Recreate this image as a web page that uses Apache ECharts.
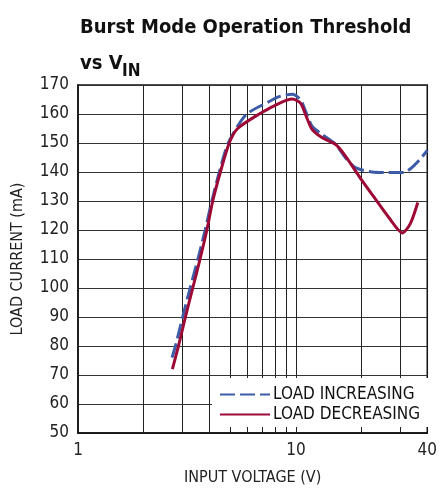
<!DOCTYPE html>
<html><head><meta charset="utf-8">
<script src="https://cdn.jsdelivr.net/npm/echarts@6/dist/echarts.min.js"></script>
<style>html,body{margin:0;padding:0;background:#fff}#c{width:440px;height:491px}</style>
</head><body><div id="c"></div>
<script>
const incX = [2.7, 2.8, 3.02, 3.27, 3.55, 3.83, 4.11, 4.45, 4.89, 5.89, 7.53, 8.37, 9.62, 10.5, 11.07, 11.87, 13.2, 15.2, 16.86, 18.74, 22.3, 26.6, 31.1, 35.2, 40];
const incY = [76, 80, 90, 100, 110, 120, 130, 140, 150, 159.7, 164.3, 166, 166.8, 164.9, 160.9, 155.7, 152.9, 149.5, 144.9, 141.5, 140, 139.8, 139.8, 142.6, 147.4];
const decX = [2.71, 2.89, 3.11, 3.36, 3.63, 3.9, 4.15, 4.5, 4.94, 5.4, 6.78, 8.37, 9.62, 10.5, 11.07, 11.87, 13.2, 15.2, 16.86, 20.1, 23.1, 26.6, 30.8, 33.4, 36.2];
const decY = [72, 80, 90, 100, 110, 120, 130, 140, 150, 155, 160, 163.7, 165.2, 163.7, 159.7, 154.6, 151.8, 149.5, 145.5, 137, 130.7, 124.4, 119, 122.1, 129.5];
const xGridLines = [2, 3, 4, 5, 6, 7, 8, 9, 10, 20, 30];
const xTickLabels = [1, 10, 40];
const seriesNames = ['LOAD INCREASING', 'LOAD DECREASING'];

const FONT = '"DejaVu Sans Condensed", "Liberation Sans", Arial, sans-serif';
const chart = echarts.init(document.getElementById('c'), null, {renderer: 'canvas'});
const pair = (xs, ys) => xs.map((x, i) => [x, ys[i]]);
chart.setOption({
  animation: false,
  backgroundColor: '#fff',
  title: [
    {text: 'Burst Mode Operation Threshold', left: 75, top: 13,
     textStyle: {fontFamily: FONT, fontWeight: 'bold', fontSize: 20, color: '#111'}},
    {text: 'vs V', left: 75, top: 49,
     textStyle: {fontFamily: FONT, fontWeight: 'bold', fontSize: 20, color: '#111'}},
    {text: 'IN', left: 117, top: 58,
     textStyle: {fontFamily: FONT, fontWeight: 'bold', fontSize: 17, color: '#111'}}
  ],
  grid: {left: 78, right: 11, top: 85, bottom: 55, show: true, borderColor: '#111', borderWidth: 1.5, backgroundColor: 'transparent'},
  legend: {
    orient: 'vertical', left: 212, top: 378,
    padding: [8, 10, 4, 7], backgroundColor: '#fff', itemWidth: 50, itemHeight: 12, itemGap: 3,
    itemStyle: {opacity: 0},
    textStyle: {fontFamily: FONT, fontSize: 17, color: '#111', padding: [2, 0, 0, -2]},
    data: seriesNames
  },
  xAxis: {
    type: 'log', logBase: 10, min: 1, max: 40,
    axisLine: {show: true, lineStyle: {color: '#111', width: 1.5}},
    axisTick: {show: false},
    splitLine: {show: false},
    axisLabel: {fontFamily: FONT, fontSize: 17, color: '#222', margin: 9, showMaxLabel: true, showMinLabel: true,
      formatter: v => (xTickLabels.some(t => Math.abs(t - v) < 1e-6) ? String(Math.round(v)) : '')},
    name: 'INPUT VOLTAGE (V)', nameLocation: 'middle', nameGap: 37,
    nameTextStyle: {fontFamily: FONT, fontSize: 16, color: '#222'}
  },
  yAxis: {
    type: 'value', min: 50, max: 170, interval: 10,
    axisLine: {show: true, lineStyle: {color: '#111', width: 1.5}},
    axisTick: {show: false},
    splitLine: {show: true, lineStyle: {color: '#333', width: 1}},
    axisLabel: {fontFamily: FONT, fontSize: 17, color: '#222', margin: 9},
    name: 'LOAD CURRENT (mA)', nameLocation: 'middle', nameGap: 52,
    nameTextStyle: {fontFamily: FONT, fontSize: 16, color: '#222'}
  },
  series: [
    {name: seriesNames[0], type: 'line', data: pair(incX, incY), smooth: 0.25, symbol: 'none', z: 3,
     lineStyle: {color: '#3d5ca8', width: 3, type: [15, 5]}, itemStyle: {color: '#3d5ca8'},
     markLine: {silent: true, symbol: 'none', z: 1, label: {show: false},
       lineStyle: {color: '#222', width: 1, type: 'solid'},
       data: xGridLines.map(v => ({xAxis: v}))}},
    {name: seriesNames[1], type: 'line', data: pair(decX, decY), smooth: 0.25, symbol: 'none', z: 4,
     lineStyle: {color: '#9e0a36', width: 3, type: 'solid'}, itemStyle: {color: '#9e0a36'}}
  ]
});
</script></body></html>
